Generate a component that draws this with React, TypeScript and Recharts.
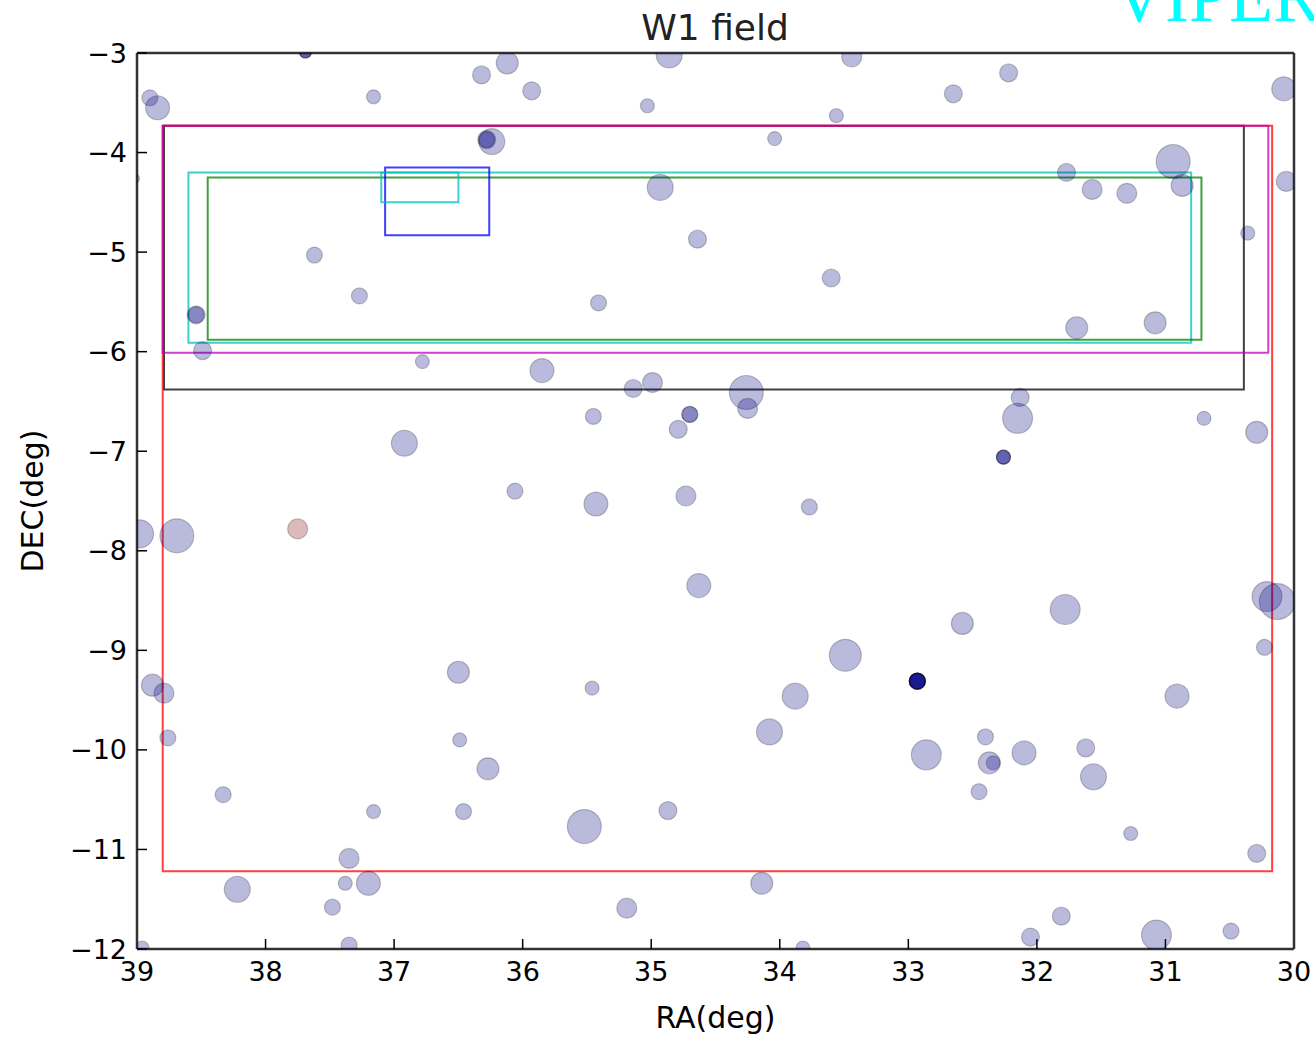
import React from 'react';
import { ScatterChart, Scatter, XAxis, YAxis, ZAxis, ReferenceArea } from 'recharts';

// ---- sources (RA deg, DEC deg, relative flux) ----
const SRC_RA = [
  38.90, 38.84, 37.16, 36.32, 36.12, 37.69, 37.69, 37.69, 36.28, 36.28, 36.24, 37.62, 37.27, 38.54, 38.54, 38.49, 39.02,
  35.93, 35.03, 34.86, 33.44, 33.56, 34.04, 34.93, 34.64, 35.41, 33.60,
  32.65, 32.22, 30.08, 30.06, 30.94, 30.87, 31.77, 31.57, 31.30, 30.36, 31.69, 31.08,
  36.78, 36.92, 36.06, 38.98, 38.69,
  35.85, 35.14, 34.99, 34.26, 34.25, 35.45, 34.70, 34.70, 34.79, 35.43, 34.73, 33.77, 34.63, 33.49,
  32.13, 32.15, 32.26, 32.26, 32.26, 30.70, 30.29, 30.21, 30.13, 31.78, 32.58, 30.23,
  38.88, 38.79, 38.76, 38.33, 36.50, 36.49, 36.27, 36.46, 37.16, 38.22, 37.35, 37.38, 37.20, 37.48, 37.35, 38.96,
  35.46, 33.88, 34.08, 35.52, 34.87, 34.14, 35.19, 33.82,
  32.93, 32.93, 32.93, 32.93, 32.93, 32.93, 32.93,
  30.91, 32.86, 32.40, 32.37, 32.34, 32.45, 32.10, 31.62, 31.56, 31.27, 30.29, 31.81, 32.05, 31.07, 30.49,
];
const SRC_DEC = [
  -3.45, -3.55, -3.44, -3.22, -3.10, -2.99, -2.99, -2.99, -3.87, -3.87, -3.89, -5.03, -5.44, -5.63, -5.63, -5.99, -4.26,
  -3.38, -3.53, -3.02, -3.04, -3.63, -3.86, -4.35, -4.87, -5.51, -5.26,
  -3.41, -3.20, -3.36, -4.29, -4.09, -4.33, -4.20, -4.37, -4.41, -4.81, -5.76, -5.71,
  -6.10, -6.92, -7.40, -7.83, -7.85,
  -6.19, -6.37, -6.31, -6.41, -6.57, -6.65, -6.63, -6.63, -6.78, -7.53, -7.45, -7.56, -8.35, -9.05,
  -6.46, -6.67, -7.06, -7.06, -7.06, -6.67, -6.81, -8.46, -8.51, -8.59, -8.73, -8.97,
  -9.35, -9.43, -9.88, -10.45, -9.22, -9.90, -10.19, -10.62, -10.62, -11.40, -11.09, -11.34, -11.34, -11.58, -11.96, -11.99,
  -9.38, -9.46, -9.82, -10.77, -10.61, -11.34, -11.59, -11.99,
  -9.31, -9.31, -9.31, -9.31, -9.31, -9.31, -9.31,
  -9.46, -10.05, -9.87, -10.13, -10.13, -10.42, -10.03, -9.98, -10.27, -10.84, -11.04, -11.67, -11.88, -11.86, -11.82,
];
const SRC_FLUX = [
  64, 144, 49, 81, 121, 36, 36, 36, 81, 64, 169, 64, 64, 81, 64, 81, 25,
  81, 49, 169, 100, 49, 49, 169, 81, 64, 81,
  81, 81, 144, 100, 289, 121, 81, 100, 100, 49, 121, 121,
  49, 169, 64, 196, 289,
  144, 81, 100, 289, 100, 64, 64, 64, 81, 144, 100, 64, 144, 256,
  81, 225, 49, 49, 49, 49, 121, 225, 324, 225, 121, 64,
  121, 100, 64, 64, 121, 49, 121, 64, 49, 169, 100, 49, 144, 64, 64, 49,
  49, 169, 169, 289, 81, 121, 100, 49,
  64, 64, 64, 64, 64, 64, 64,
  144, 225, 64, 121, 49, 64, 144, 81, 169, 49, 81, 81, 81, 225, 64,
];

// a single reddish source
const RED_RA = [37.75];
const RED_DEC = [-7.78];
const RED_FLUX = [100];

// ---- survey footprints (drawn in this order) ----
const FIELD_NAMES = ['black', 'red', 'magenta', 'cyanBig', 'green', 'blue', 'cyanSmall'];
const FIELD_RA1 = [38.79, 38.80, 38.80, 38.60, 38.45, 37.07, 37.10];
const FIELD_RA2 = [30.39, 30.17, 30.20, 30.80, 30.72, 36.26, 36.50];
const FIELD_DEC1 = [-3.73, -3.73, -3.73, -4.20, -4.25, -4.15, -4.20];
const FIELD_DEC2 = [-6.38, -11.22, -6.01, -5.91, -5.88, -4.83, -4.50];

const RA_TICKS = [39, 38, 37, 36, 35, 34, 33, 32, 31, 30];
const DEC_TICKS = [-3, -4, -5, -6, -7, -8, -9, -10, -11, -12];

const FIELD_COLORS: Record<string, string> = {
  red: '#ff0000',
  magenta: '#bf00bf',
  black: '#000000',
  cyanBig: '#00bfbf',
  green: '#008000',
  blue: '#0000ff',
  cyanSmall: '#00bfbf',
};

const sources = SRC_RA.map((ra, i) => ({ ra, dec: SRC_DEC[i], flux: SRC_FLUX[i] }));
const redSources = RED_RA.map((ra, i) => ({ ra, dec: RED_DEC[i], flux: RED_FLUX[i] }));

const FONT = 'DejaVu Sans, sans-serif';
const fmt = (v: number) => (v < 0 ? '\u2212' + Math.abs(v) : String(v));
const tickStyle = { fill: '#000', fontSize: 27, fontFamily: FONT };
const axisLineStyle = { stroke: '#333', strokeWidth: 2.5 };
const tickLineStyle = { stroke: '#000', strokeWidth: 1.5 };

const DecLabel = (props: any) => {
  const vb = props.viewBox || { x: 0, y: 53, width: 137, height: 896 };
  const x = 43;
  const y = vb.y + vb.height / 2;
  return (
    <text x={x} y={y} transform={`rotate(-90 ${x} ${y})`} textAnchor="middle" fontSize={30} fontFamily={FONT} fill="#000">
      DEC(deg)
    </text>
  );
};

export default function App() {
  return (
    <div style={{ position: 'absolute', left: 0, top: 0, width: 1314, height: 1039, background: '#fff', overflow: 'hidden' }}>
      <ScatterChart width={1314} height={1039} margin={{ top: 52, right: 19, bottom: 0, left: 0 }}>
        <XAxis
          type="number"
          dataKey="ra"
          domain={[30, 39]}
          reversed
          allowDataOverflow
          ticks={RA_TICKS}
          interval={0}
          height={90}
          tickSize={-10}
          tickMargin={23}
          tick={tickStyle}
          tickFormatter={fmt}
          axisLine={axisLineStyle}
          tickLine={tickLineStyle}
          label={{ value: 'RA(deg)', position: 'insideBottom', offset: 11, fontSize: 30, fontFamily: FONT, fill: '#000' }}
        />
        <XAxis
          xAxisId="top"
          orientation="top"
          type="number"
          domain={[30, 39]}
          reversed
          allowDataOverflow
          ticks={RA_TICKS}
          interval={0}
          height={1}
          tickSize={-10}
          tick={false}
          axisLine={axisLineStyle}
          tickLine={tickLineStyle}
        />
        <YAxis
          type="number"
          dataKey="dec"
          domain={[-12, -3]}
          allowDataOverflow
          ticks={DEC_TICKS}
          interval={0}
          width={137}
          tickSize={-10}
          tickMargin={20}
          tick={tickStyle}
          tickFormatter={fmt}
          axisLine={axisLineStyle}
          tickLine={tickLineStyle}
          label={{ content: DecLabel }}
        />
        <YAxis
          yAxisId="right"
          orientation="right"
          type="number"
          domain={[-12, -3]}
          allowDataOverflow
          ticks={DEC_TICKS}
          interval={0}
          width={1}
          tickSize={-10}
          tick={false}
          axisLine={axisLineStyle}
          tickLine={tickLineStyle}
        />
        <ZAxis type="number" dataKey="flux" domain={[0, 400]} range={[0, 400 * Math.PI]} />
        <Scatter
          data={sources}
          shape="circle"
          fill="#000080"
          fillOpacity={0.27}
          stroke="#000000"
          strokeOpacity={0.22}
          strokeWidth={1.2}
          isAnimationActive={false}
        />
        <Scatter
          data={redSources}
          shape="circle"
          fill="#800000"
          fillOpacity={0.27}
          stroke="#000000"
          strokeOpacity={0.22}
          strokeWidth={1.2}
          isAnimationActive={false}
        />
        {FIELD_NAMES.map((name, i) => (
          <ReferenceArea
            key={name}
            x1={FIELD_RA1[i]}
            x2={FIELD_RA2[i]}
            y1={FIELD_DEC1[i]}
            y2={FIELD_DEC2[i]}
            fill="none"
            fillOpacity={0}
            stroke={FIELD_COLORS[name]}
            strokeOpacity={0.75}
            strokeWidth={2}
            ifOverflow="visible"
          />
        ))}
      </ScatterChart>
      <svg width={1314} height={1039} style={{ position: 'absolute', left: 0, top: 0, pointerEvents: 'none' }}>
        <text x={715} y={40} textAnchor="middle" fontSize={36} fontFamily={FONT} fill="#222">
          W1 field
        </text>
        <text x={1113} y={21} fontSize={72} fontFamily="Liberation Serif, Times New Roman, serif" fill="#00ffff">
          VIPERS
        </text>
      </svg>
    </div>
  );
}
